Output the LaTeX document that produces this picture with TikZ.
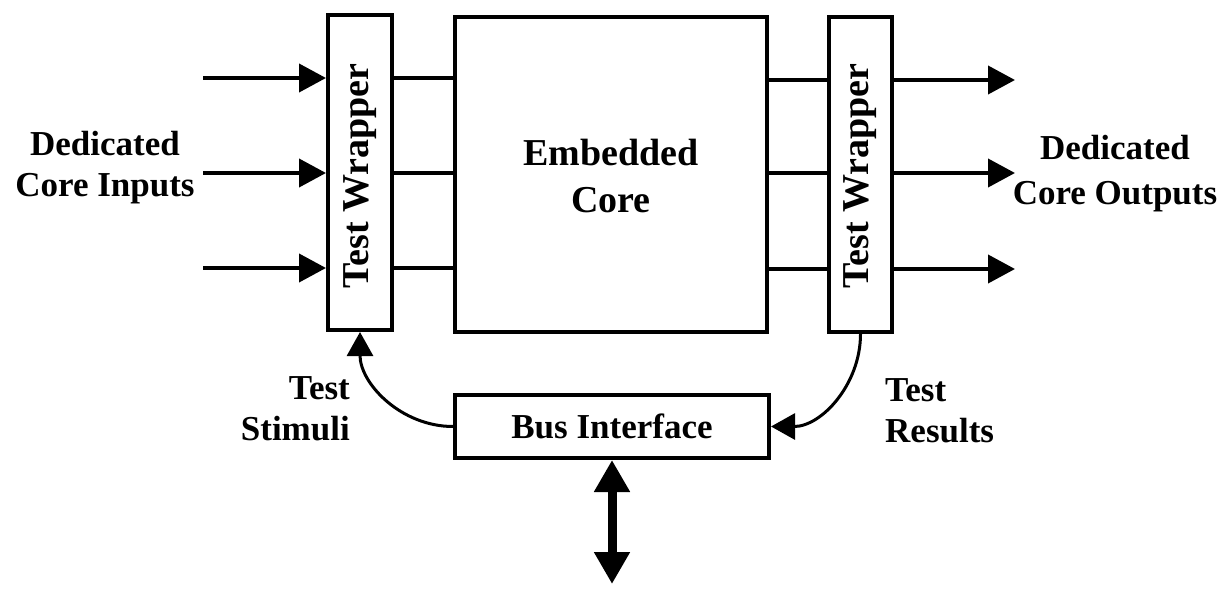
\documentclass[tikz,border=0pt]{standalone}
\usepackage{fontspec}
\setmainfont{Liberation Serif}
\usetikzlibrary{arrows.meta}
\begin{document}
\begin{tikzpicture}[x=1pt,y=-1pt,
  box/.style={draw, line width=4pt, inner sep=0pt},
  lbl/.style={font=\bfseries\fontsize{35}{41}\selectfont, inner sep=0pt},
  biglbl/.style={font=\bfseries\fontsize{38}{47}\selectfont, inner sep=0pt},
  wire/.style={line width=4pt},
  arr/.style={line width=4pt, -{Triangle[length=27pt,width=28pt]}},
  carr/.style={line width=3pt, -{Triangle[length=24pt,width=26pt]}},
  biarr/.style={line width=9pt, {Triangle[length=32pt,width=34pt]}-{Triangle[length=32pt,width=34pt]}},
]
\useasboundingbox (0,0) rectangle (1220,591);

% boxes
\node[box, minimum width=64pt, minimum height=315pt] (lw) at (360,172.5) {};
\node[box, minimum width=312pt, minimum height=315pt] (core) at (611,174.5) {};
\node[box, minimum width=63pt, minimum height=315pt] (rw) at (860.5,174.5) {};
\node[box, minimum width=314pt, minimum height=63pt] (bus) at (612,426.5) {};

% texts in boxes
\node[biglbl, rotate=90] (lwt) at (360,176) {Test Wrapper};
\node[biglbl, rotate=90] (rwt) at (860.5,176) {Test Wrapper};
\node[biglbl, align=center] (coret) at (611,176) {Embedded\\Core};
\node[lbl] (bust) at (bus.center) {Bus Interface};

% side labels
\node[lbl, align=center] (din) at (105,168) {Dedicated\\Core Inputs};
\node[lbl, align=center] (dout) at (1115,174) {Dedicated\\[4pt]Core Outputs};
\node[lbl, align=right, anchor=east] (ts) at (350,409) {Test\\Stimuli};
\node[lbl, align=left, anchor=west] (tr) at (885,411) {Test\\Results};

% input arrows
\coordinate (i1) at (203,78);
\coordinate (i2) at (203,173);
\coordinate (i3) at (203,268);
\draw[arr] (i1) -- (i1 -| lw.west);
\draw[arr] (i2) -- (i2 -| lw.west);
\draw[arr] (i3) -- (i3 -| lw.west);

% wires wrapper -> core
\draw[wire] (lw.east |- i1) -- (core.west |- i1);
\draw[wire] (lw.east |- i2) -- (core.west |- i2);
\draw[wire] (lw.east |- i3) -- (core.west |- i3);

% output side
\coordinate (o1) at (1015,80);
\coordinate (o2) at (1015,173);
\coordinate (o3) at (1015,269);
\draw[wire] (core.east |- o1) -- (rw.west |- o1);
\draw[wire] (core.east |- o2) -- (rw.west |- o2);
\draw[wire] (core.east |- o3) -- (rw.west |- o3);
\draw[arr] (rw.east |- o1) -- (o1);
\draw[arr] (rw.east |- o2) -- (o2);
\draw[arr] (rw.east |- o3) -- (o3);

% curved arrows
\draw[carr] (bus.west) to[out=180,in=-90] (lw.south);
\draw[carr] (rw.south) to[out=-90,in=0] (bus.east);

% bus arrow
\coordinate (bb) at (612,584);
\draw[biarr] (bus.south) -- (bb);
\end{tikzpicture}
\end{document}
